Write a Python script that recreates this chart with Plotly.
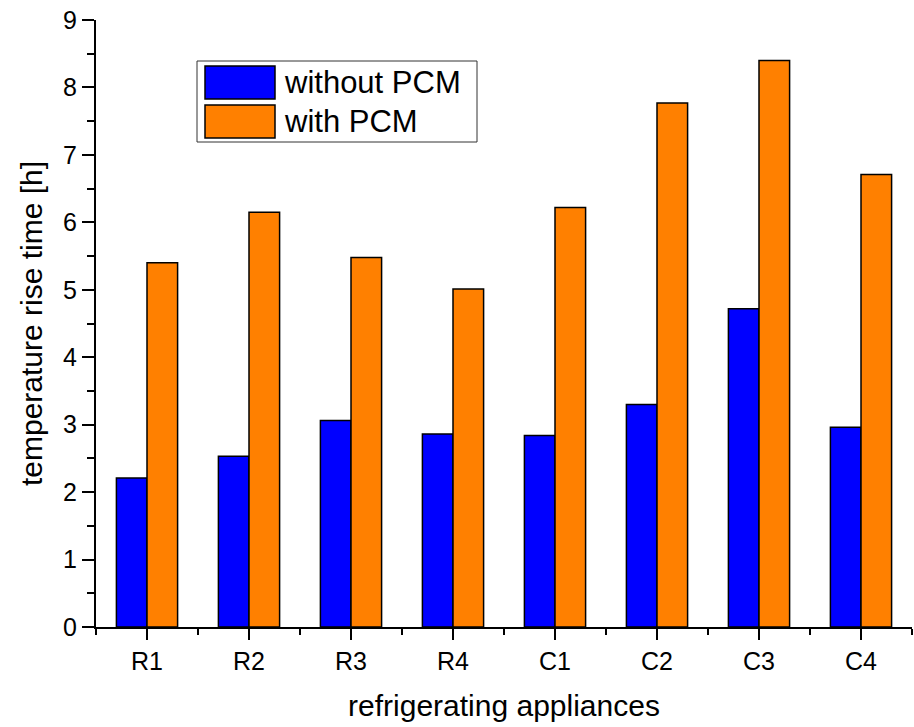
import plotly.graph_objects as go

categories = ["R1", "R2", "R3", "R4", "C1", "C2", "C3", "C4"]
without_pcm = [2.21, 2.53, 3.06, 2.86, 2.84, 3.30, 4.72, 2.96]
with_pcm = [5.40, 6.15, 5.48, 5.01, 6.22, 7.77, 8.40, 6.71]
series_names = ["without PCM", "with PCM"]
colors = ["#0000FF", "#FF8000"]
y_ticks = [0, 1, 2, 3, 4, 5, 6, 7, 8, 9]

x = list(range(len(categories)))
font = "Liberation Sans, Arial, sans-serif"

fig = go.Figure()
for name, vals, col in zip(series_names, [without_pcm, with_pcm], colors):
    fig.add_trace(go.Bar(x=x, y=vals, name=name, marker=dict(color=col, line=dict(color="black", width=1.5)),
                         showlegend=False))

fig.update_layout(
    width=914, height=727,
    margin=dict(l=96, r=2, t=20, b=100),
    paper_bgcolor="white", plot_bgcolor="white",
    barmode="group", bargap=0.4, bargroupgap=0,
    font=dict(family=font, color="black"),
)
fig.update_xaxes(
    range=[-0.5, 7.5], tickmode="array", tickvals=x, ticktext=categories,
    showline=True, linecolor="black", linewidth=2, showgrid=False, zeroline=False,
    ticks="outside", ticklen=11, tickwidth=2, tickcolor="black",
    tickfont=dict(size=25),
    minor=dict(tickmode="linear", tick0=0.5, dtick=1, ticks="outside", ticklen=6, tickwidth=2, tickcolor="black", showgrid=False),
    title=dict(text="refrigerating appliances", font=dict(size=30), standoff=21),
)
fig.update_yaxes(
    range=[0, 9], tickmode="array", tickvals=y_ticks,
    showline=True, linecolor="black", linewidth=2, showgrid=False, zeroline=False,
    ticks="outside", ticklen=12, tickwidth=2, tickcolor="black",
    tickfont=dict(size=25),
    minor=dict(tickmode="linear", tick0=0.5, dtick=1, ticks="outside", ticklen=7, tickwidth=2, tickcolor="black", showgrid=False),
    title=dict(text="temperature rise time [h]", font=dict(size=30), standoff=12),
)

# custom legend (paper coords) to mimic large swatches
pw = 914 - 96 - 2
ph = 727 - 20 - 100
def px(xp):
    return (xp - 96) / pw
def py(yp):
    return 1 - (yp - 20) / ph

fig.add_shape(type="rect", xref="paper", yref="paper", x0=px(197), x1=px(477), y0=py(142), y1=py(61),
              line=dict(color="#333", width=1), fillcolor="white", layer="above")
rows = [(66, 99), (105, 138)]
for (y0, y1), name, col in zip(rows, series_names, colors):
    fig.add_shape(type="rect", xref="paper", yref="paper", x0=px(205), x1=px(275), y0=py(y1), y1=py(y0),
                  line=dict(color="black", width=1.5), fillcolor=col, layer="above")
    fig.add_annotation(xref="paper", yref="paper", x=px(282), y=py((y0 + y1) / 2), text=name,
                       showarrow=False, xanchor="left", yanchor="middle", font=dict(size=31, family=font, color="black"))

fig.write_html("out.html")
